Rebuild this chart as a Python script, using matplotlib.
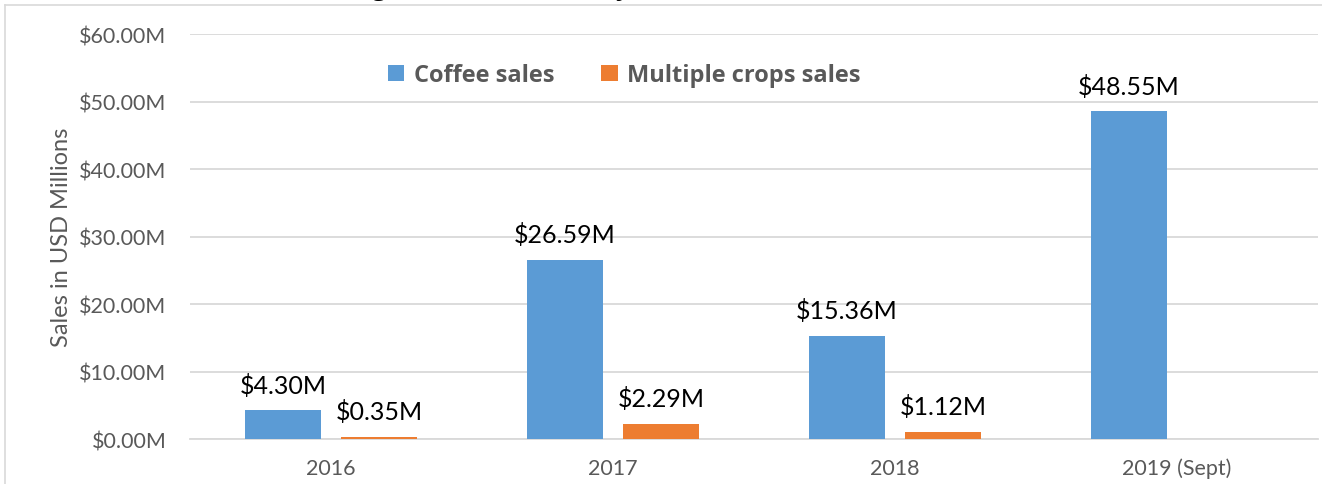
import matplotlib.pyplot as plt
from matplotlib.lines import Line2D
import numpy as np

# === Data (USD millions) ===
years = ["2016", "2017", "2018", "2019 (Sept)"]
coffee_sales = [4.30, 26.59, 15.36, 48.55]
multi_crop_sales = [0.35, 2.29, 1.12, None]
y_ticks = [0, 10, 20, 30, 40, 50, 60]

BLUE = "#5B9BD5"
ORANGE = "#ED7D31"
GREY_TXT = "#595959"
GRID = "#D9D9D9"

plt.rcParams["font.family"] = ["Lato", "DejaVu Sans"]

fig = plt.figure(figsize=(13.22, 4.85), dpi=100)
ax = fig.add_axes([0.1437, 0.0918, 0.8533, 0.836])

x = np.arange(len(years))
w = 0.27
off = 0.17

coffee_bars = ax.bar(x - off, coffee_sales, w, color=BLUE, label="Coffee sales", zorder=3)
crop_vals = [v if v is not None else 0 for v in multi_crop_sales]
crop_bars = ax.bar(x + off, crop_vals, w, color=ORANGE, label="Multiple crops sales", zorder=3)

# value labels above the bars
for xi, v in zip(x - off, coffee_sales):
    ax.annotate(f"${v:.2f}M", (xi, v), xytext=(0, 10), textcoords="offset points",
                ha="center", va="bottom", fontsize=18, color="black")
for xi, v in zip(x + off, multi_crop_sales):
    if v is None:
        continue
    ax.annotate(f"${v:.2f}M", (xi, v), xytext=(0, 10), textcoords="offset points",
                ha="center", va="bottom", fontsize=18, color="black")

ax.set_ylim(0, 60)
ax.set_xlim(-0.5, len(years) - 0.5)
ax.set_yticks(y_ticks)
ax.set_yticklabels([f"${t:.2f}M" for t in y_ticks])
ax.set_xticks(x)
ax.set_xticklabels(years)
ax.tick_params(axis="y", length=0, pad=17, labelsize=15.5, labelcolor=GREY_TXT)
ax.tick_params(axis="x", length=0, pad=13, labelsize=15.5, labelcolor=GREY_TXT)
ax.grid(axis="y", color=GRID, linewidth=1.3, zorder=0)
for s in ["top", "right", "left"]:
    ax.spines[s].set_visible(False)
ax.spines["bottom"].set_color(GRID)
ax.spines["bottom"].set_linewidth(1.3)

ax.set_ylabel("Sales in USD Millions", fontsize=17, color=GREY_TXT, labelpad=5)

leg = ax.legend(loc="upper center", bbox_to_anchor=(0.385, 0.98), ncol=2, frameon=False,
                prop={"family": "Open Sans", "weight": "bold", "size": 17},
                handlelength=0.7, handleheight=0.7, handletextpad=0.4, columnspacing=2.0)
for t in leg.get_texts():
    t.set_color(GREY_TXT)

# title sitting above the frame, only its descenders land on the page
fig.text(0.428, 1 + 5 / 485, "Figure 4: Total sales by value (USD)", ha="center", va="baseline",
         fontsize=18, fontweight="bold", family="Open Sans", color="black")

# outer chart frame
fig.add_artist(Line2D([5 / 1322, 1], [1 - 6 / 485, 1 - 6 / 485], color=GRID, linewidth=1.2,
                      transform=fig.transFigure))
fig.add_artist(Line2D([5 / 1322, 5 / 1322], [0, 1 - 6 / 485], color=GRID, linewidth=1.2,
                      transform=fig.transFigure))

fig.savefig("out.png", dpi=100)
